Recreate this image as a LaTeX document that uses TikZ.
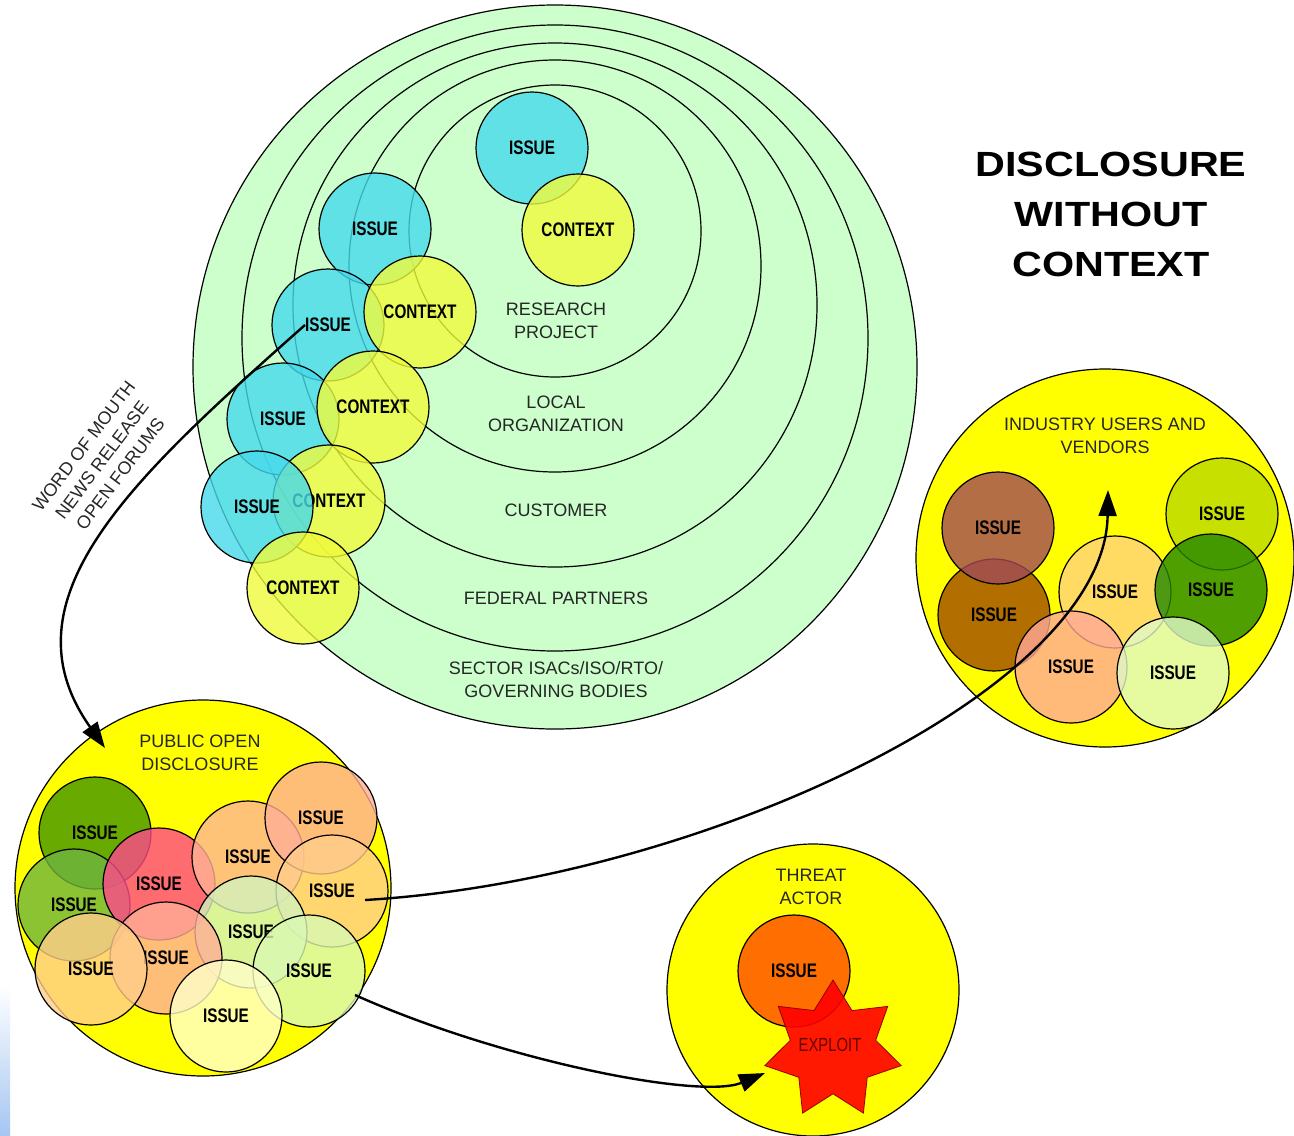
\documentclass[tikz,border=0pt]{standalone}
\usepackage{fontspec}
\setmainfont{Liberation Sans}
\newfontfamily\narrowfont[FakeStretch=0.78]{Liberation Sans}
\newfontfamily\titlefont[FakeStretch=1.18]{Liberation Sans}
\usetikzlibrary{positioning}
\usetikzlibrary {arrows.meta}
\usetikzlibrary{shapes.geometric}
\definecolor{ringgreen}{RGB}{204,255,204}
\definecolor{poolyellow}{RGB}{255,255,0}
\definecolor{issuecyan}{RGB}{70,218,236}
\definecolor{ctxyellow}{RGB}{240,250,60}
\definecolor{pubA}{RGB}{67,149,0}
\definecolor{pubB}{RGB}{111,180,63}
\definecolor{pubC}{RGB}{255,72,140}
\definecolor{pubD}{RGB}{255,180,150}
\definecolor{pubE}{RGB}{255,174,150}
\definecolor{pubF}{RGB}{255,205,138}
\definecolor{pubG}{RGB}{211,242,188}
\definecolor{pubJ}{RGB}{217,249,181}
\definecolor{pubK}{RGB}{255,255,200}
\definecolor{indA}{RGB}{161,74,88}
\definecolor{indB}{RGB}{161,74,0}
\definecolor{indC}{RGB}{186,217,0}
\definecolor{indD}{RGB}{255,211,125}
\definecolor{indE}{RGB}{36,136,0}
\definecolor{indF}{RGB}{255,168,150}
\definecolor{indG}{RGB}{224,249,200}
\definecolor{threatorange}{RGB}{255,74,0}
\definecolor{exploitline}{RGB}{150,0,0}
\definecolor{exploittext}{RGB}{100,0,0}
\definecolor{edgeblue}{RGB}{165,198,242}
\tikzset{ring/.style={circle,draw=black,line width=0.6pt,inner sep=0pt}}
\tikzset{pool/.style={circle,draw=black,line width=0.6pt,fill=poolyellow,inner sep=0pt}}
\tikzset{issue/.style={circle,draw=black,line width=0.6pt,fill=#1,fill opacity=0.8,
text opacity=1,inner sep=0pt,minimum size=56pt,
font=\narrowfont\bfseries\fontsize{9.8}{11}\selectfont}}
\tikzset{tag/.style={align=center,text=black!85,font=\fontsize{9}{11.5}\selectfont}}
\tikzset{flow/.style={line width=1.2pt,-{Triangle[length=13pt,width=9pt]}}}

\begin{document}
\begin{tikzpicture}[x=0.5pt,y=-0.5pt]
        \useasboundingbox (0,0) rectangle (1294,1135);
        \fill[top color=white,bottom color=edgeblue] (0,985) rectangle (10,1135);

        \node[ring,fill=ringgreen,minimum size=362pt] (ringSector) at (555,367) {};
        \node[ring,minimum size=313pt] (ringFederal) at (555,338) {};
        \node[ring,minimum size=262pt] (ringCustomer) at (555,305) {};
        \node[ring,minimum size=206pt] (ringLocal) at (555,266) {};
        \node[ring,minimum size=146pt] (ringResearch) at (555,231) {};

        \node[tag] (tagResearch) at (556,321) {RESEARCH\\PROJECT};
        \node[tag] (tagLocal) at (556,414) {LOCAL\\ORGANIZATION};
        \node[tag] (tagCustomer) at (556,510) {CUSTOMER};
        \node[tag] (tagFederal) at (556,598) {FEDERAL PARTNERS};
        \node[tag] (tagSector) at (556,680) {SECTOR ISACs/ISO/RTO/\\GOVERNING BODIES};

        \node[issue=issuecyan] (issueR) at (532,148) {ISSUE};
        \node[issue=ctxyellow] (contextR) at (578,230) {CONTEXT};
        \node[issue=issuecyan] (issueA) at (375,229) {ISSUE};
        \node[issue=issuecyan] (issueB) at (328,325) {ISSUE};
        \node[issue=ctxyellow] (contextA) at (420,312) {CONTEXT};
        \node[issue=issuecyan] (issueC) at (283,419) {ISSUE};
        \node[issue=ctxyellow] (contextB) at (373,407) {CONTEXT};
        \node[issue=ctxyellow] (contextC) at (329,501) {CONTEXT};
        \node[issue=issuecyan] (issueD) at (257,507) {ISSUE};
        \node[issue=ctxyellow] (contextD) at (303,588) {CONTEXT};

        \node[align=center,font=\titlefont\bfseries\fontsize{17.5}{25}\selectfont] (title) at (1111,214) {DISCLOSURE\\WITHOUT\\CONTEXT};

        \node[pool,minimum size=188pt] (pub) at (203,888) {};
        \node[tag] (tagPub) at (200,753) {PUBLIC OPEN\\DISCLOSURE};
        \node[issue=pubA] (pubA) at (95,833) {ISSUE};
        \node[issue=pubB] (pubB) at (74,905) {ISSUE};
        \node[issue=pubC] (pubC) at (159,884) {ISSUE};
        \node[issue=pubD] (pubD) at (248,857) {ISSUE};
        \node[issue=pubE] (pubE) at (321,818) {ISSUE};
        \node[issue=pubF] (pubF) at (332,891) {ISSUE};
        \node[issue=pubG] (pubG) at (251,932) {ISSUE};
        \node[issue=pubE] (pubH) at (166,958) {ISSUE};
        \node[issue=pubF] (pubI) at (91,969) {ISSUE};
        \node[issue=pubJ] (pubJ) at (309,971) {ISSUE};
        \node[issue=pubK] (pubK) at (226,1016) {ISSUE};

        \node[pool,minimum size=189pt] (ind) at (1105,558) {};
        \node[tag] (tagInd) at (1105,436) {INDUSTRY USERS AND\\VENDORS};
        \node[issue=indB] (indB) at (994,615) {ISSUE};
        \node[issue=indA] (indA) at (998,528) {ISSUE};
        \node[issue=indC] (indC) at (1222,514) {ISSUE};
        \node[issue=indD] (indD) at (1115,592) {ISSUE};
        \node[issue=indE] (indE) at (1211,590) {ISSUE};
        \node[issue=indF] (indF) at (1071,667) {ISSUE};
        \node[issue=indG] (indG) at (1173,673) {ISSUE};

        \node[pool,minimum size=146pt] (threat) at (813,990) {};
        \node[tag] (tagThreat) at (811,887) {THREAT\\ACTOR};
        \node[issue=threatorange] (threatIssue) at (794,971) {ISSUE};
        \node[star,star points=7,star point ratio=1.6,minimum size=70pt,inner sep=0pt,
          draw=exploitline,fill=red,fill opacity=0.9] (exploit) at (833,1050) {};
        \node[text=exploittext,font=\narrowfont\fontsize{9.5}{11}\selectfont] (exploitTag) at (830,1045) {EXPLOIT};

        \node[tag,rotate=53] (tagWord) at (102,460) {WORD OF MOUTH\\NEWS RELEASE\\OPEN FORUMS};

        \coordinate (issueBin) at ([xshift=-11.5pt]issueB);
        \coordinate (pubTip) at ([xshift=-49pt,yshift=70pt]pub);
        \draw [flow] (issueBin) .. controls (130,480) and (0,600) .. (pubTip);

        \coordinate (pubFr) at ([xshift=16.5pt,yshift=-4.5pt]pubF);
        \coordinate (indTip) at ([xshift=1.5pt,yshift=34pt]ind);
        \draw [flow] (pubFr) .. controls (700,880) and (1105,690) .. (indTip);

        \coordinate (pubJr) at ([xshift=23pt,yshift=-12pt]pubJ);
        \coordinate (exploitTip) at ([xshift=-34pt,yshift=-11.5pt]exploit);
        \draw [flow] (pubJr) .. controls (500,1060) and (700,1100) .. (exploitTip);

    \end{tikzpicture}
\end{document}
